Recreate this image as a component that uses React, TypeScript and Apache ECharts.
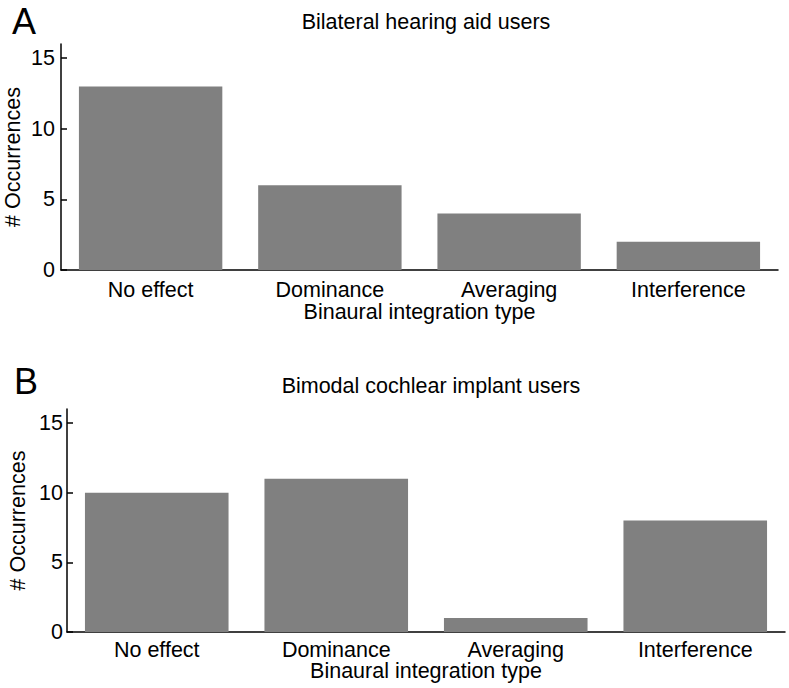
import React, { useEffect, useRef } from "react";
import * as echarts from "echarts";

const categories = ["No effect", "Dominance", "Averaging", "Interference"];
const bilateralValues = [13, 6, 4, 2];
const bimodalValues = [10, 11, 1, 8];
const yTicks = [0, 5, 10, 15];
const titleA = "Bilateral hearing aid users";
const titleB = "Bimodal cochlear implant users";
const xName = "Binaural integration type";
const yName = "# Occurrences";

const FONT = "'Liberation Sans', Arial, sans-serif";
const FS = 21.5;

export default function App() {
  const ref = useRef<HTMLDivElement>(null);
  useEffect(() => {
    if (!ref.current) return;
    const chart = echarts.init(ref.current, undefined, { renderer: "svg" });
    const axisText = { fontFamily: FONT, fontSize: FS, color: "#000", lineHeight: FS };
    const mkX = (gridIndex: number, margin: number, nameGap: number) => ({
      type: "category",
      gridIndex,
      data: categories,
      name: xName,
      nameLocation: "middle",
      nameGap,
      nameMoveOverlap: false,
      nameTextStyle: axisText,
      axisLine: { show: true, lineStyle: { color: "#000", width: 1.5 } },
      axisTick: { show: false },
      axisLabel: { ...axisText, margin, interval: 0 },
      splitLine: { show: false },
    });
    const mkY = (gridIndex: number, margin: number, nameGap: number) => ({
      type: "value",
      gridIndex,
      min: 0,
      max: 16,
      name: yName,
      nameLocation: "middle",
      nameGap,
      nameMoveOverlap: false,
      nameTextStyle: axisText,
      axisLine: { show: true, lineStyle: { color: "#000", width: 1.5 } },
      axisTick: {
        show: true,
        inside: true,
        length: 6,
        customValues: yTicks,
        lineStyle: { color: "#000", width: 1.5 },
      },
      axisLabel: { ...axisText, margin, customValues: yTicks },
      splitLine: { show: false },
    });
    chart.setOption({
      animation: false,
      backgroundColor: "#fff",
      title: [
        { text: "A", left: 7, top: -2, textStyle: { fontFamily: FONT, fontSize: 36, fontWeight: "normal", color: "#000" } },
        { text: titleA, left: 421, top: 6, textAlign: "center", textStyle: { fontFamily: FONT, fontSize: FS, fontWeight: "normal", color: "#000" } },
        { text: "B", left: 9, top: 358, textStyle: { fontFamily: FONT, fontSize: 36, fontWeight: "normal", color: "#000" } },
        { text: titleB, left: 426, top: 370, textAlign: "center", textStyle: { fontFamily: FONT, fontSize: FS, fontWeight: "normal", color: "#000" } },
      ],
      grid: [
        { left: 61, top: 44, width: 717, height: 226, outerBoundsMode: "none", containLabel: false },
        { left: 67, top: 409, width: 718, height: 223, outerBoundsMode: "none", containLabel: false },
      ],
      xAxis: [mkX(0, 9, 31), mkX(1, 7, 28.6)],
      yAxis: [mkY(0, 6, 37), mkY(1, 4, 38)],
      series: [
        {
          type: "bar",
          xAxisIndex: 0,
          yAxisIndex: 0,
          data: bilateralValues,
          barCategoryGap: "20%",
          itemStyle: { color: "#808080" },
        },
        {
          type: "bar",
          xAxisIndex: 1,
          yAxisIndex: 1,
          data: bimodalValues,
          barCategoryGap: "20%",
          itemStyle: { color: "#808080" },
        },
      ],
    });
    return () => chart.dispose();
  }, []);
  return (
    <div
      ref={ref}
      style={{ position: "absolute", left: 0, top: 0, width: 789, height: 688 }}
    />
  );
}
